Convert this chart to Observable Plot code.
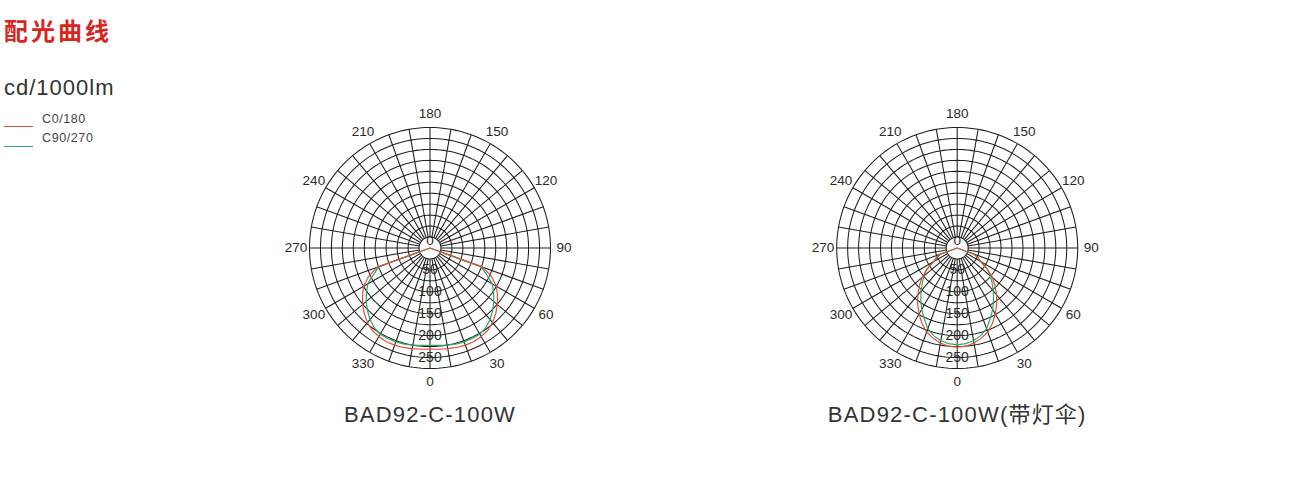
<!DOCTYPE html>
<html>
<head>
<meta charset="utf-8">
<script src="https://cdn.jsdelivr.net/npm/d3@7"></script>
<script src="https://cdn.jsdelivr.net/npm/@observablehq/plot@0.6"></script>
<style>
  body { margin: 0; background: #fff; }
  #wrap { position: relative; width: 1315px; height: 486px; overflow: hidden; font-family: "Liberation Sans", Arial, sans-serif; }
  #chart { position: absolute; left: 0; top: 0; }
  .title { position: absolute; left: 4px; top: 18px; font: bold 24px/24px "Noto Sans CJK SC", sans-serif; letter-spacing: 3px; color: #d8261f; white-space: nowrap; }
  .unit { position: absolute; left: 4px; top: 77px; font-size: 22px; line-height: 22px; letter-spacing: 1px; color: #333; white-space: nowrap; }
  .legtext { position: absolute; left: 42px; font-size: 12.5px; line-height: 13px; letter-spacing: 0.6px; color: #444; white-space: nowrap; }
  .legline { position: absolute; left: 4px; width: 29px; height: 1px; }
</style>
</head>
<body>
<div id="wrap">
  <div id="chart"></div>
  <div class="title">配光曲线</div>
  <div class="unit">cd/1000lm</div>
  <div id="legend"></div>
</div>
<script>
// ---- data ----
const titleText = "配光曲线";
const unitText = "cd/1000lm";
const chartNames = ["BAD92-C-100W", "BAD92-C-100W(带灯伞)"];
const seriesNames = ["C0/180", "C90/270"];
const seriesColors = ["#e0503c", "#2fa66a"];
const gammaAngles = [0, 5, 10, 15, 20, 25, 30, 35, 40, 45, 50, 55, 60, 65, 70, 75];
const chart1C0  = [231, 232, 233, 235, 236, 236, 233, 230, 222, 212, 201, 188, 175, 155, 128, 0];
const chart1C90 = [222, 223, 225, 227, 228, 228, 227, 222, 213, 202, 190, 177, 164, 142, 124, 0];
const chart2C0  = [226, 225, 220, 213, 204, 190, 174, 157, 140, 122, 105, 84, 62, 52, 40, 0];
const chart2C90 = [221, 219, 215, 207, 196, 178, 162, 145, 128, 113, 99, 84, 62, 52, 40, 0];
const ringValues = [25, 50, 75, 100, 125, 150, 175, 200, 225, 250, 275];
const spokeAngles = [0,10,20,30,40,50,60,70,80,90,100,110,120,130,140,150,160,170,180,190,200,210,220,230,240,250,260,270,280,290,300,310,320,330,340,350];
const radialTicks = [50, 100, 150, 200, 250];
const angleTicks = [0, 30, 60, 90, 120, 150, 180, 210, 240, 270, 300, 330];

// ---- legend (HTML) ----
const legend = document.getElementById("legend");
const legTops = [113, 132], lineTops = [125.5, 145.5];
seriesNames.forEach((s, i) => {
  const l = document.createElement("div");
  l.className = "legline"; l.style.top = lineTops[i] + "px"; l.style.background = seriesColors[i];
  legend.appendChild(l);
  const t = document.createElement("div");
  t.className = "legtext"; t.style.top = legTops[i] + "px"; t.textContent = s;
  legend.appendChild(t);
});

// ---- geometry helpers ----
const rad = d => d * Math.PI / 180;
const RMIN = ringValues[0], RMAX = ringValues[ringValues.length - 1];
const labelRadius = 306;
const K = 120.5 / RMAX;          // px per cd
const halfW = 263.6 / K, halfH = 150 / K;

const circlePts = [];
ringValues.forEach(r => { for (let a = 0; a <= 360; a += 2) circlePts.push({r, a}); });

const curves = [];
const chartSeries = [[chart1C0, chart1C90], [chart2C0, chart2C90]];
chartSeries.forEach((pair, ci) => {
  [1, 0].forEach(si => {
    const vals = pair[si];
    const pts = [];
    for (let i = gammaAngles.length - 1; i >= 0; i--) pts.push({g: -gammaAngles[i], v: vals[i]});
    for (let i = 1; i < gammaAngles.length; i++) pts.push({g: gammaAngles[i], v: vals[i]});
    pts.forEach(p => curves.push({chart: chartNames[ci], series: seriesNames[si], g: p.g, v: p.v}));
  });
});

const gridColor = "#1e1e1e";
const plot = Plot.plot({
  width: 1315,
  height: 486,
  marginLeft: 165.9,
  marginRight: 94.7,
  marginTop: 97.5,
  marginBottom: 88.5,
  fx: {domain: chartNames, padding: 0, round: false, axis: null},
  x: {domain: [-halfW, halfW], axis: null},
  y: {domain: [-halfH, halfH], reverse: true, axis: null},
  color: {domain: seriesNames, range: seriesColors},
  style: {fontFamily: "'Liberation Sans', Arial, 'Noto Sans CJK SC', sans-serif", color: "#333", background: "transparent"},
  marks: [
    Plot.line(circlePts, {
      x: d => d.r * Math.sin(rad(d.a)), y: d => d.r * Math.cos(rad(d.a)),
      z: "r", stroke: gridColor, strokeWidth: 1.05
    }),
    Plot.link(spokeAngles, {
      x1: a => RMIN * Math.sin(rad(a)), y1: a => RMIN * Math.cos(rad(a)),
      x2: a => RMAX * Math.sin(rad(a)), y2: a => RMAX * Math.cos(rad(a)),
      stroke: gridColor, strokeWidth: 1.05
    }),
    Plot.text(angleTicks, {
      x: a => labelRadius * Math.sin(rad(a)), y: a => labelRadius * Math.cos(rad(a)),
      text: a => String(a), fontSize: 13.5, fill: "#2a2a2a"
    }),
    Plot.text(radialTicks, {x: () => 0, y: v => v, text: v => String(v), fontSize: 14, fill: "#2a2a2a"}),
    Plot.text([0], {x: () => 0, y: () => 0, text: v => String(v), dy: -7, fontSize: 13.5, fill: "#2a2a2a"}),
    Plot.line(curves, {
      fx: "chart",
      x: d => d.v * Math.sin(rad(d.g)), y: d => d.v * Math.cos(rad(d.g)),
      z: "series", stroke: "series", strokeWidth: 1.2
    }),
    Plot.text(chartNames, {fx: d => d, text: d => d, frameAnchor: "bottom", dy: 24, fontSize: 22, fill: "#333"})
  ]
});
plot.querySelectorAll("text").forEach(t => {
  if (chartNames.includes(t.textContent)) t.style.letterSpacing = "1.2px";
});
document.getElementById("chart").appendChild(plot);
</script>
</body>
</html>
